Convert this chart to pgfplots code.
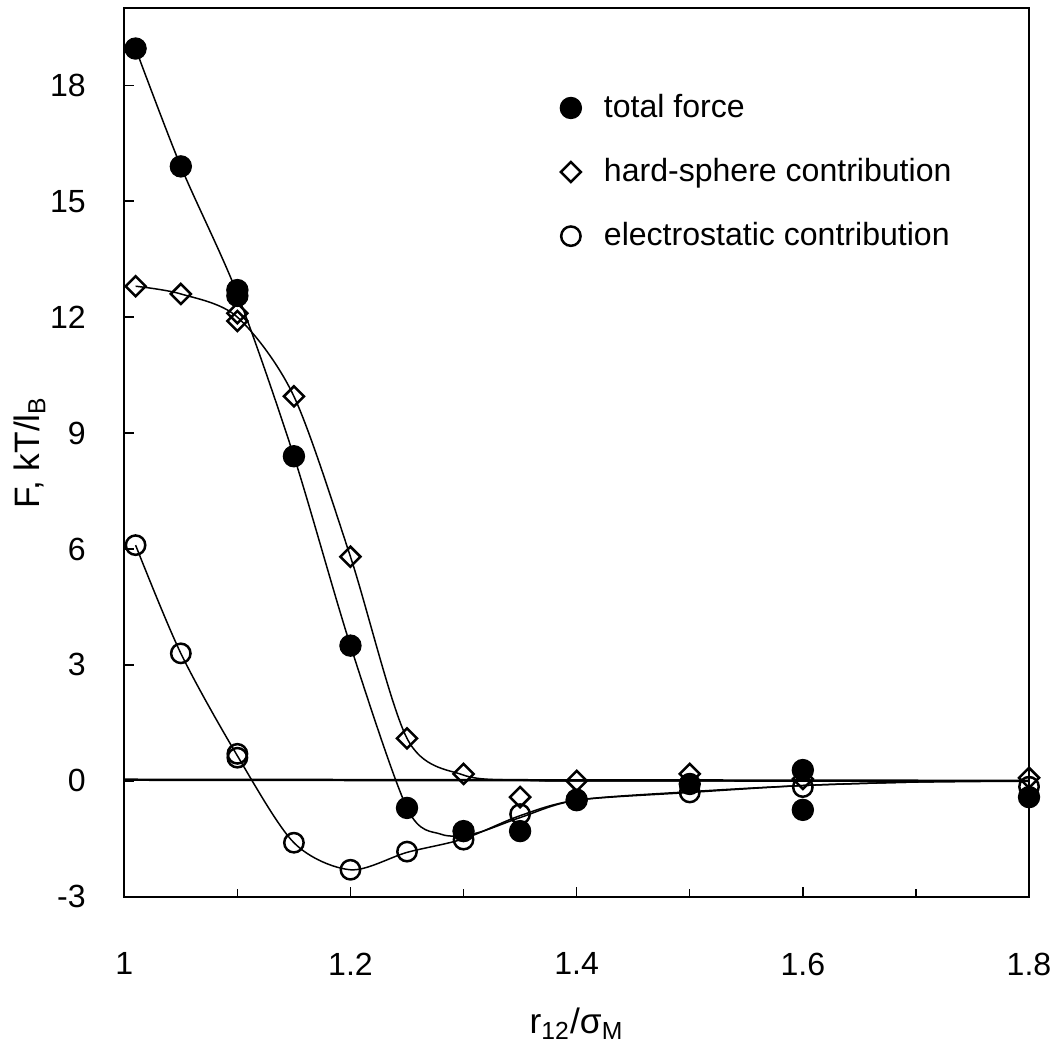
\documentclass[border=0pt]{standalone}
\usepackage{fontspec}
\setmainfont{Liberation Sans}
\usepackage{pgfplots}
\pgfplotsset{compat=1.18}
\begin{document}
\fontsize{12.9pt}{15.5pt}\selectfont
\begin{tikzpicture}
\begin{axis}[
  name=ax,
  scale only axis, width=364pt, height=357.6pt,
  xmin=1, xmax=1.8, ymin=-3, ymax=20,
  xtick={1,1.2,1.4,1.6,1.8},
  minor xtick={1.1,1.3,1.5,1.7},
  ytick={-3,0,3,6,9,12,15,18},
  tick pos=left, tick align=inside,
  major tick length=4pt, minor tick length=3pt,
  axis line style={line width=0.8pt},
  tick style={line width=0.6pt, black},
  /pgf/number format/assume math mode=true,
  xticklabel style={yshift=-18pt},
  yticklabel style={xshift=-11pt},
  xlabel={r\textsubscript{12}/σ\textsubscript{M}},
  ylabel={F, kT/l\textsubscript{B}},
  xlabel style={at={(axis description cs:0.5,0)}, anchor=center, yshift=-51pt, font=\fontsize{14.2pt}{17pt}\selectfont},
  ylabel style={at={(axis description cs:0,0.5)}, anchor=center, yshift=38pt, font=\fontsize{14.2pt}{17pt}\selectfont},
  legend style={at={(axis description cs:0.473,0.915)}, anchor=north west, draw=none, fill=none,
    row sep=10.5pt, column sep=7pt, nodes={inner sep=2pt}},
  legend cell align=left,
  clip=false,
]
% zero line
\addplot[black, line width=1pt, forget plot] coordinates {(1,0.03)(1.8,0)};
% curves
\addplot[black, line width=0.6pt, smooth, tension=0.5, forget plot] coordinates {
 (1.01,18.95)(1.05,15.9)(1.1,12.6)(1.15,8.4)(1.2,3.5)(1.25,-0.7)(1.28,-1.38)(1.31,-1.36)(1.35,-0.95)(1.4,-0.5)(1.5,-0.28)(1.6,-0.12)(1.7,-0.03)(1.8,0)};
\addplot[black, line width=0.6pt, smooth, tension=0.5, forget plot] coordinates {
 (1.01,12.8)(1.05,12.6)(1.1,12.0)(1.15,9.95)(1.2,5.8)(1.25,1.1)(1.3,0.15)(1.35,0.02)(1.4,0)(1.5,0)(1.8,0)};
\addplot[black, line width=0.6pt, smooth, tension=0.5, forget plot] coordinates {
 (1.01,6.1)(1.05,3.3)(1.1,0.65)(1.15,-1.6)(1.2,-2.3)(1.25,-1.85)(1.3,-1.5)(1.35,-0.9)(1.4,-0.5)(1.5,-0.3)(1.6,-0.12)(1.7,-0.03)(1.8,0)};
% markers
\addplot[only marks, mark=*, mark size=4.3pt, black] coordinates {
 (1.01,18.95)(1.05,15.9)(1.1,12.7)(1.1,12.55)(1.15,8.4)(1.2,3.5)(1.25,-0.7)(1.3,-1.3)(1.35,-1.3)(1.4,-0.5)(1.5,-0.08)(1.6,0.28)(1.6,-0.75)(1.8,-0.42)};
\addlegendentry{total force}
\addplot[only marks, mark=square, mark size=2.85pt, mark options={rotate=45, line width=1pt}, black] coordinates {
 (1.01,12.8)(1.05,12.6)(1.1,12.1)(1.1,11.9)(1.15,9.95)(1.2,5.8)(1.25,1.1)(1.3,0.18)(1.35,-0.42)(1.4,0.0)(1.5,0.18)(1.6,0.05)(1.8,0.08)};
\addlegendentry{hard-sphere contribution}
\addplot[only marks, mark=o, mark size=3.9pt, mark options={line width=1pt}, black] coordinates {
 (1.01,6.1)(1.05,3.3)(1.1,0.7)(1.1,0.6)(1.15,-1.6)(1.2,-2.3)(1.25,-1.83)(1.3,-1.52)(1.35,-0.86)(1.4,-0.48)(1.5,-0.3)(1.6,-0.16)(1.8,-0.15)};
\addlegendentry{electrostatic contribution}
\end{axis}
\path ([xshift=-50pt,yshift=-52.8pt]ax.south west) rectangle ([xshift=10.8pt,yshift=3.2pt]ax.north east);
\end{tikzpicture}
\end{document}
